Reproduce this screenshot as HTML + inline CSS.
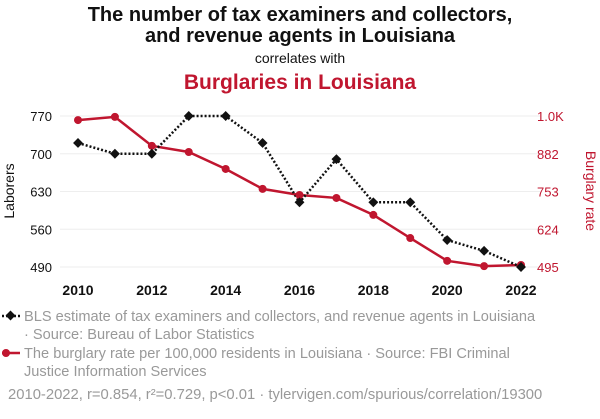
<!DOCTYPE html>
<html><head><meta charset="utf-8"><style>
body{margin:0;background:#fff;width:600px;height:414px;overflow:hidden;font-family:"Liberation Sans",sans-serif}
</style></head><body>
<svg width="600" height="414" id="c" style="font-family:'Liberation Sans',sans-serif">
<text x="300" y="21" text-anchor="middle" font-size="20" font-weight="bold" fill="#111">The number of tax examiners and collectors,</text>
<text x="300" y="42" text-anchor="middle" font-size="20" font-weight="bold" fill="#111">and revenue agents in Louisiana</text>
<text x="300" y="63" text-anchor="middle" font-size="14" fill="#111">correlates with</text>
<text x="300" y="89" text-anchor="middle" font-size="21" font-weight="bold" fill="#c0162f">Burglaries in Louisiana</text>
<text transform="translate(14,191) rotate(-90)" text-anchor="middle" font-size="14" fill="#111">Laborers</text>
<text transform="translate(586,191) rotate(90)" text-anchor="middle" font-size="14" fill="#c0162f">Burglary rate</text>
<g id="grid"></g><g id="axes"></g><g id="series"></g>
<g>
<line x1="2" y1="316" x2="20" y2="316" stroke="#111" stroke-width="2.5" stroke-dasharray="2,2"/>
<rect x="7" y="312" width="7" height="7" fill="#111" transform="rotate(45 10.5 315.5)"/>
<text x="24" y="321" font-size="14.6" fill="#999">BLS estimate of tax examiners and collectors, and revenue agents in Louisiana</text>
<text x="24" y="339" font-size="14.6" fill="#999">· Source: Bureau of Labor Statistics</text>
<line x1="2" y1="353" x2="20" y2="353" stroke="#c0162f" stroke-width="2.5"/>
<circle cx="6" cy="353" r="4" fill="#c0162f"/>
<text x="24" y="358" font-size="14.6" fill="#999">The burglary rate per 100,000 residents in Louisiana · Source: FBI Criminal</text>
<text x="24" y="376" font-size="14.6" fill="#999">Justice Information Services</text>
<text x="8" y="399" font-size="14.8" fill="#999">2010-2022, r=0.854, r²=0.729, p&lt;0.01 · tylervigen.com/spurious/correlation/19300</text>
</g>
</svg>
<script>
const years=[2010,2011,2012,2013,2014,2015,2016,2017,2018,2019,2020,2021,2022];
const laborers=[720,700,700,770,770,720,610,690,610,610,540,520,490];
const burglary=[997,1008,909,888,830,762,741,731,673,594,516,498,502];
const leftTicks=[490,560,630,700,770];
const rightTicks=[495,624,753,882,1011];
const rightLabels=["495","624","753","882","1.0K"];
const xTicks=[2010,2012,2014,2016,2018,2020,2022];
const NS="http://www.w3.org/2000/svg";
const x=v=>78+(v-2010)*(521-78)/12;
const yl=v=>267-(v-490)*(151/280);
const yr=v=>267-(v-495)*(151/516);
function mk(t,a,p){const e=document.createElementNS(NS,t);for(const k in a)e.setAttribute(k,a[k]);p.appendChild(e);return e;}
const grid=document.getElementById('grid'),axes=document.getElementById('axes'),ser=document.getElementById('series');
leftTicks.forEach(v=>{
 const l=mk('line',{x1:60,x2:540,y1:yl(v),y2:yl(v),stroke:'#eee','stroke-width':1},grid);
 
 
 const t=mk('text',{x:52,y:yl(v)+5,'text-anchor':'end','font-size':13,fill:'#111'},axes);t.textContent=v;
 
 
});
rightTicks.forEach((v,i)=>{
 const t=mk('text',{x:537,y:yr(v)+5,'font-size':13,fill:'#c0162f'},axes);t.textContent=rightLabels[i];
 
 
});
xTicks.forEach(v=>{
 const t=mk('text',{x:x(v),y:295,'text-anchor':'middle','font-size':14,'font-weight':'bold',fill:'#111'},axes);t.textContent=v;
 
 
});
const rp=mk('polyline',{points:years.map((y,i)=>x(y)+','+yr(burglary[i])).join(' '),fill:'none',stroke:'#c0162f','stroke-width':2.5},ser);


const bp=mk('polyline',{points:years.map((y,i)=>x(y)+','+yl(laborers[i])).join(' '),fill:'none',stroke:'#111','stroke-width':2.5,'stroke-dasharray':'2,2'},ser);


years.forEach((y,i)=>{
 const c=mk('circle',{cx:x(y),cy:yr(burglary[i]),r:4,fill:'#c0162f'},ser);
 
 
 const cx=x(y),cy=yl(laborers[i]);
 const d=mk('rect',{x:cx-3.5,y:cy-3.5,width:7,height:7,fill:'#111',transform:`rotate(45 ${cx} ${cy})`},ser);
 
 
});
</script>
</body></html>
